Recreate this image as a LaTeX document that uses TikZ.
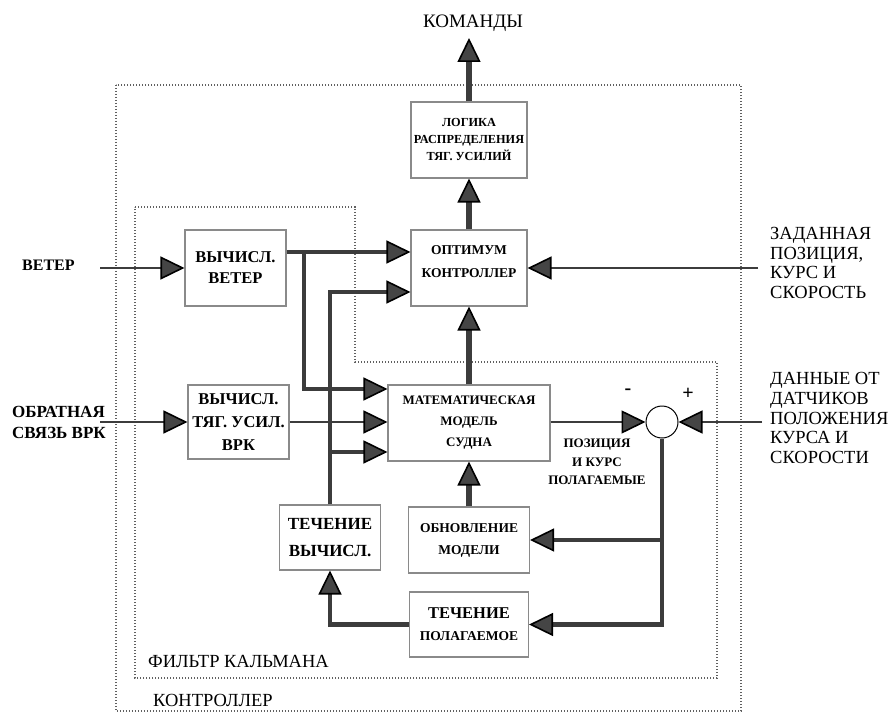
\documentclass[tikz,border=0pt]{standalone}
\usepackage{fontspec}
\setmainfont{Liberation Serif}
\usetikzlibrary{arrows.meta,calc}
\definecolor{linec}{HTML}{3C3C3C}
\definecolor{tipfill}{HTML}{454545}
\definecolor{boxc}{HTML}{8A8A8A}
\definecolor{dotc}{HTML}{606060}
\begin{document}
\begin{tikzpicture}[x=1pt,y=-1pt,
 box/.style={draw=boxc, line width=1.1pt, fill=white, align=center, inner sep=0pt},
 tip/.style={-{Triangle[length=24pt,width=23pt,color=black,fill=tipfill,line width=1.6pt]}},
 thinl/.style={draw=linec, line width=2.5pt},
 medl/.style={draw=linec, line width=4.2pt},
 heavyl/.style={draw=linec, line width=6pt},
 dotbox/.style={draw=dotc, line width=1.3pt, dash pattern=on 1.3pt off 1.7pt},
 lbl/.style={inner sep=0pt}]
\useasboundingbox (0,0) rectangle (896,714);
\fill[white] (0,0) rectangle (896,714);

% dotted frames
\draw[dotbox] (116,85) rectangle (741,711);
\draw[dotbox] (135,207) -- (355,207) -- (355,362) -- (717,362) -- (717,678) -- (135,678) -- cycle;

% blocks
\node[box, minimum width=116pt, minimum height=76pt, font=\fontsize{12.3}{17}\selectfont\bfseries] (logic) at (469,140) {ЛОГИКА\\РАСПРЕДЕЛЕНИЯ\\ТЯГ. УСИЛИЙ};
\node[box, minimum width=116pt, minimum height=76pt, font=\fontsize{13.5}{23}\selectfont\bfseries] (opt) at (469,268) {ОПТИМУМ\\КОНТРОЛЛЕР\\[-11pt]};
\node[box, minimum width=101pt, minimum height=76pt, font=\fontsize{16.5}{21}\selectfont\bfseries] (vw) at (235.5,268) {ВЫЧИСЛ.\\ВЕТЕР};
\node[box, minimum width=101pt, minimum height=74pt, font=\fontsize{16.5}{23}\selectfont\bfseries] (vrk) at (238.5,422) {ВЫЧИСЛ.\\ТЯГ. УСИЛ.\\ВРК};
\node[box, minimum width=162pt, minimum height=76pt, font=\fontsize{13}{21}\selectfont\bfseries] (math) at (469,423) {МАТЕМАТИЧЕСКАЯ\\МОДЕЛЬ\\СУДНА};
\node[box, minimum width=101pt, minimum height=65pt, font=\fontsize{17}{27}\selectfont\bfseries] (tv) at (330,537.5) {ТЕЧЕНИЕ\\ВЫЧИСЛ.};
\node[box, minimum width=121pt, minimum height=66pt, font=\fontsize{13.5}{22}\selectfont\bfseries] (obnov) at (469,540) {ОБНОВЛЕНИЕ\\МОДЕЛИ};
\node[box, minimum width=119pt, minimum height=65pt, font=\bfseries] (techpol) at (469,624.5) {{\fontsize{16.5}{18}\selectfont ТЕЧЕНИЕ}\\[10pt]{\fontsize{13.5}{15}\selectfont ПОЛАГАЕМОЕ}};
\node[circle, draw=black, line width=1pt, fill=white, minimum size=32pt, inner sep=0pt] (sum) at (662,422) {};
\node[lbl, font=\fontsize{20}{20}\selectfont\bfseries] (minus) at (628,392) {-};
\node[lbl, font=\fontsize{20}{20}\selectfont\bfseries] (plus) at (688,394) {+};

% labels
\node[lbl, font=\fontsize{19}{19}\selectfont] (cmd) at (473,23) {КОМАНДЫ};
\node[lbl, anchor=west, font=\fontsize{16}{16}\selectfont\bfseries] (wind) at (22,265) {ВЕТЕР};
\node[lbl, anchor=west, align=left, font=\fontsize{17}{21}\selectfont\bfseries] (fb) at (12,422) {ОБРАТНАЯ\\СВЯЗЬ ВРК};
\node[lbl, anchor=west, align=left, font=\fontsize{18.5}{19.7}\selectfont] (setp) at (770,263) {ЗАДАННАЯ\\ПОЗИЦИЯ,\\КУРС И\\СКОРОСТЬ};
\node[lbl, anchor=west, align=left, font=\fontsize{18.5}{19.7}\selectfont] (sens) at (770,418) {ДАННЫЕ ОТ\\ДАТЧИКОВ\\ПОЛОЖЕНИЯ\\КУРСА И\\СКОРОСТИ};
\node[lbl, align=center, font=\fontsize{13}{18.5}\selectfont\bfseries] (posl) at (597,462) {ПОЗИЦИЯ\\И КУРС\\ПОЛАГАЕМЫЕ};
\node[lbl, anchor=west, font=\fontsize{18.5}{18}\selectfont] (kl) at (148,661) {ФИЛЬТР КАЛЬМАНА};
\node[lbl, anchor=west, font=\fontsize{18.5}{18}\selectfont] (cl) at (153,700) {КОНТРОЛЛЕР};

% free ends and junctions
\coordinate (cmdtip) at (469,38);
\coordinate (windin) at (100,268);
\coordinate (vrkin) at (100,422);
\coordinate (setin) at (758,268);
\coordinate (sensin) at (762,422);
\coordinate (j1) at (304,252);
\coordinate (m1) at ([yshift=34pt]math.west);
\coordinate (m3) at ([yshift=-29pt]math.west);

% connectors
\draw[heavyl,tip] (logic.north) -- (cmdtip);
\draw[heavyl,tip] (opt.north) -- (logic.south);
\draw[heavyl,tip] (math.north) -- (opt.south);
\draw[heavyl,tip] (obnov.north) -- (math.south);

\draw[thinl,tip] (windin) -- (vw.west);
\draw[medl,tip] ([yshift=16pt]vw.east) -- ([yshift=16pt]opt.west);
\draw[medl,tip] (j1) |- (m1);
\draw[medl,tip] (tv.north) |- ([yshift=-24pt]opt.west);
\draw[medl,tip] (tv.north |- m3) -- (m3);

\draw[thinl,tip] (vrkin) -- (vrk.west);
\draw[thinl,tip] (vrk.east) -- (vrk.east -| math.west);
\draw[thinl,tip] (math.east |- sum) -- (sum.west);
\draw[thinl,tip] (sensin) -- (sum.east);
\draw[thinl,tip] (setin) -- (opt.east);

\draw[medl,tip] (sum.south) |- (techpol.east);
\draw[medl,tip] (sum.south |- obnov.east) -- (obnov.east);
\draw[medl,tip] (techpol.west) -| (tv.south);
\end{tikzpicture}
\end{document}
